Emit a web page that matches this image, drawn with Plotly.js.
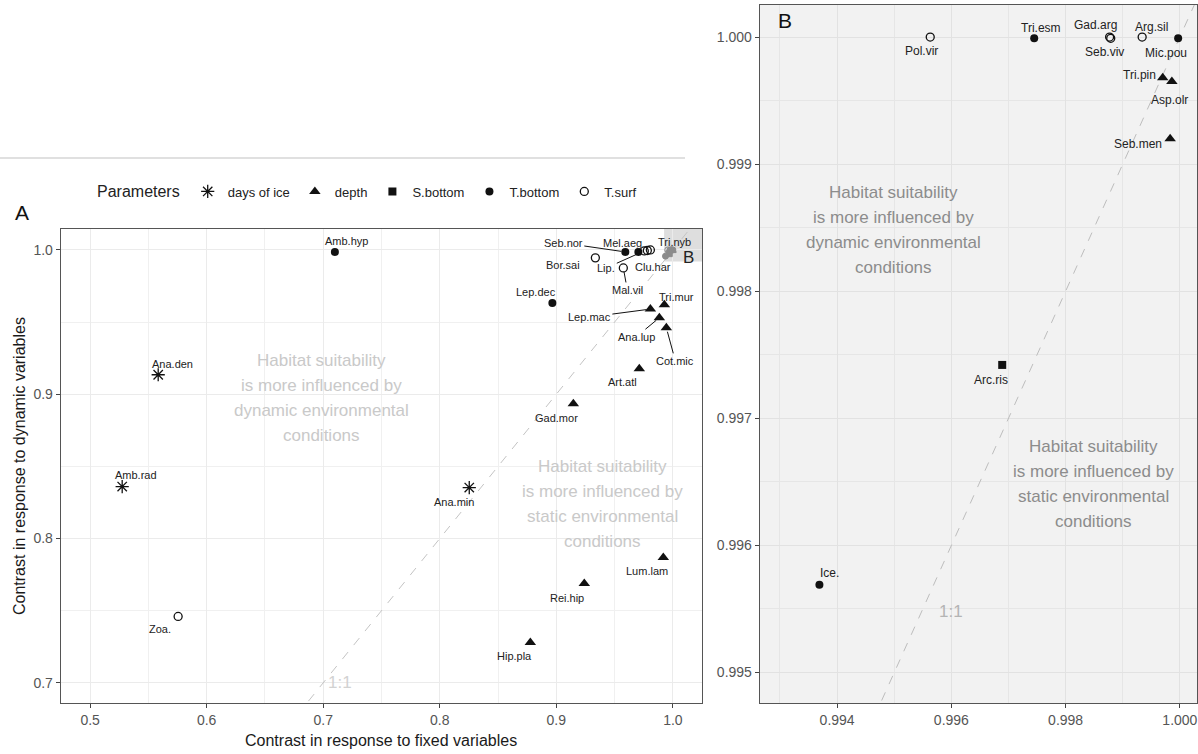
<!DOCTYPE html>
<html>
<head>
<meta charset="utf-8">
<script src="https://cdn.plot.ly/plotly-3.0.1.min.js"></script>
<style>html,body{margin:0;padding:0;background:#fff;}#chart{width:1198px;height:754px;}</style>
</head>
<body>
<div id="chart"></div>
<script>
// ---------------- DATA ----------------
// Panel A
const speciesA = ['Amb.hyp','Ana.den','Amb.rad','Zoa.','Ana.min','Gad.mor','Art.atl','Lum.lam','Rei.hip','Hip.pla','Cot.mic','Lep.dec','Tri.mur','Lep.mac','Ana.lup','Mal.vil','Bor.sai','Seb.nor','Mel.aeg','Lip.','Clu.har','Tri.nyb'];
const fixedA   = [0.710, 0.5584, 0.5275, 0.5755, 0.8253, 0.9146, 0.9712, 0.9918, 0.924, 0.8777, 0.9944, 0.8966, 0.9927, 0.9807, 0.9884, 0.9575, 0.9335, 0.9592, 0.9704, 0.9755, 0.9781, 0.9807];
const dynamicA = [0.9986, 0.9135, 0.836, 0.746, 0.8353, 0.8934, 0.9176, 0.7869, 0.7689, 0.728, 0.946, 0.9633, 0.962, 0.959, 0.953, 0.9875, 0.9945, 0.9986, 0.9986, 0.9993, 0.9996, 1.0];
const paramA   = ['T.bottom','days of ice','days of ice','T.surf','days of ice','depth','depth','depth','depth','depth','depth','T.bottom','depth','depth','depth','T.surf','T.surf','T.bottom','T.bottom','T.surf','T.surf','T.surf'];

// Panel B (zoom of the top-right corner)
const speciesB = ['Pol.vir','Tri.esm','Gad.arg','Seb.viv','Arg.sil','Mic.pou','Tri.pin','Asp.olr','Seb.men','Arc.ris','Ice.'];
const fixedB   = [0.99563, 0.99745, 0.99877, 0.99879, 0.99934, 0.99997, 0.99970, 0.99986, 0.99983, 0.99689, 0.99369];
const dynamicB = [1.0, 0.99999, 1.0, 0.99999, 1.0, 0.99999, 0.99968, 0.99965, 0.99920, 0.99742, 0.99569];
const paramB   = ['T.surf','T.bottom','T.surf','T.surf','T.surf','T.bottom','depth','depth','depth','S.bottom','T.bottom'];

const parameters = ['days of ice','depth','S.bottom','T.bottom','T.surf'];

const tickA_x = [0.5,0.6,0.7,0.8,0.9,1.0];
const tickA_y = [0.7,0.8,0.9,1.0];

// label placement (pixel offsets from each point, and whether a leader segment is drawn)
const labelOffA = [[12,-11],[14,-11],[14,-12],[-18,13],[-15,14],[-17,14],[-17,13],[-16,14],[-17,15],[-16,14],[9,33],[-16,-11],[12,-8],[-61,8],[-23,19],[4,22],[-32,7],[-62,-9],[-16,-9],[-38,17],[6,16],[24,-8]];
const leaderA   = [0,0,0,0,0,0,0,0,0,0,1,0,0,1,1,1,0,1,0,1,0,0];
const labelOffB = [[-9,14],[7,-10],[-14,-12],[-6,14],[9,-10],[-12,15],[-23,-3],[-2,18],[-32,5],[-11,15],[10,-12]];

// ---------------- STYLE ----------------
const FONT = 'Liberation Sans, Arial, sans-serif';
const symbolOf = {'days of ice':'asterisk-open','depth':'triangle-up','S.bottom':'square','T.bottom':'circle','T.surf':'circle-open'};
const sizeOf   = {'days of ice':11,'depth':10,'S.bottom':8,'T.bottom':8,'T.surf':8};

function pick(arr, idx){ return idx.map(i=>arr[i]); }

const traces = [];
// identity lines
traces.push({x:[0.6,1.05], y:[0.6,1.05], xaxis:'x', yaxis:'y', mode:'lines', line:{color:'#c4c4c4', width:1, dash:'dash'}, showlegend:false, hoverinfo:'skip'});
traces.push({x:[0.99,1.001], y:[0.99,1.001], xaxis:'x2', yaxis:'y2', mode:'lines', line:{color:'#bdbdbd', width:1, dash:'dash'}, showlegend:false, hoverinfo:'skip'});

// grey copies of panel B points inside panel A box
traces.push({x:fixedB, y:dynamicB, xaxis:'x', yaxis:'y', mode:'markers',
  marker:{symbol:paramB.map(p=>symbolOf[p]), size:6, color:'#8c8c8c', line:{color:'#8c8c8c', width:1}},
  showlegend:false, hoverinfo:'skip'});

parameters.forEach((p, k)=>{
  const ia = paramA.map((v,i)=>v===p?i:-1).filter(i=>i>=0);
  const ib = paramB.map((v,i)=>v===p?i:-1).filter(i=>i>=0);
  const mk = {symbol:symbolOf[p], size:sizeOf[p], color:'#111', line:{color:'#111', width:(p==='T.surf'||p==='days of ice')?1.3:0}};
  const legendFromA = ia.length>0;
  if (ia.length) traces.push({x:pick(fixedA,ia), y:pick(dynamicA,ia), xaxis:'x', yaxis:'y', mode:'markers', marker:mk, name:p, legendgroup:p, legendrank:k+1, showlegend:true});
  if (ib.length) traces.push({x:pick(fixedB,ib), y:pick(dynamicB,ib), xaxis:'x2', yaxis:'y2', mode:'markers', marker:mk, name:p, legendgroup:p, legendrank:k+1, showlegend:!legendFromA});
});

const annotations = [];
speciesA.forEach((s,i)=>{
  const a = {x:fixedA[i], y:dynamicA[i], xref:'x', yref:'y', text:s, font:{family:FONT, size:11, color:'#222'}};
  if (leaderA[i]) Object.assign(a, {showarrow:true, ax:labelOffA[i][0], ay:labelOffA[i][1], arrowhead:0, arrowwidth:1, arrowcolor:'#111', standoff:4});
  else Object.assign(a, {showarrow:false, xshift:labelOffA[i][0], yshift:-labelOffA[i][1], xanchor:'center', yanchor:'middle'});
  annotations.push(a);
});
speciesB.forEach((s,i)=>{
  annotations.push({x:fixedB[i], y:dynamicB[i], xref:'x2', yref:'y2', text:s, showarrow:false, xshift:labelOffB[i][0], yshift:-labelOffB[i][1],
    xanchor:'center', yanchor:'middle', font:{family:FONT, size:12, color:'#222'}});
});

function block(lines, x, y, xr, yr, color){
  lines.forEach((t,i)=>{
    annotations.push({x:x, y:y, xref:xr, yref:yr, text:t, showarrow:false, xanchor:'center', yanchor:'middle', yshift:((lines.length-1)/2 - i)*25,
      font:{family:FONT, size:17, color:color}});
  });
}
const dynText = ['Habitat suitability','is more influenced by','dynamic environmental','conditions'];
const statText = ['Habitat suitability','is more influenced by','static environmental','conditions'];
block(dynText, 0.6983, 0.8976, 'x', 'y', '#c9c9c9');
block(statText, 0.9395, 0.8239, 'x', 'y', '#c9c9c9');
block(dynText, 0.99498, 0.998484, 'x2', 'y2', '#8c8c8c');
block(statText, 0.998488, 0.99648, 'x2', 'y2', '#8c8c8c');

annotations.push({x:0.7146, y:0.700, xref:'x', yref:'y', text:'1:1', showarrow:false, font:{family:FONT, size:17, color:'#d2d2d2'}});
annotations.push({x:0.9960, y:0.99548, xref:'x2', yref:'y2', text:'1:1', showarrow:false, font:{family:FONT, size:17, color:'#b4b4b4'}});

function paperText(px, py, text, size, extra){
  annotations.push(Object.assign({x:px/1198, y:1-py/754, xref:'paper', yref:'paper', text:text, showarrow:false, xanchor:'center', yanchor:'middle',
    font:{family:FONT, size:size, color:'#111'}}, extra||{}));
}
// panel letters
paperText(22, 212, 'A', 21);
paperText(785, 20, 'B', 21);
annotations.push({x:1.0, y:0.9945, xref:'x', yref:'y', text:'B', showarrow:false, xshift:16, font:{family:FONT, size:17, color:'#222'}});

// axis titles
paperText(381, 740, 'Contrast in response to fixed variables', 16, {font:{family:FONT, size:16, color:'#1a1a1a'}});
paperText(19, 466, 'Contrast in response to dynamic variables', 16, {textangle:-90, font:{family:FONT, size:16, color:'#1a1a1a'}});

const shapes = [
  {type:'line', xref:'paper', yref:'paper', x0:0, x1:685/1198, y0:1-158/754, y1:1-158/754, line:{color:'#c2c2c2', width:1.2}},
  {type:'rect', xref:'x2 domain', yref:'y2 domain', x0:0, x1:1, y0:0, y1:1, fillcolor:'#f2f2f2', line:{width:0}, layer:'below'},
  {type:'rect', xref:'x', yref:'y', x0:0.9925, x1:1.03, y0:0.992, y1:1.03, fillcolor:'#dedede', line:{width:0}, layer:'below'}
];

const tickFont = {family:FONT, size:14, color:'#555'};
const axBase = {showline:true, mirror:true, linecolor:'#555', linewidth:1.3, ticks:'outside', ticklen:4, tickcolor:'#444', tickwidth:1,
  zeroline:false, showgrid:true, tickfont:tickFont, automargin:false, fixedrange:true};

const layout = {
  width:1198, height:754, margin:{l:0,r:0,t:0,b:0}, paper_bgcolor:'#fff', plot_bgcolor:'#fff',
  hovermode:false, font:{family:FONT},
  xaxis: Object.assign({}, axBase, {domain:[61/1198, 702/1198], range:[0.475,1.025], anchor:'y', tickvals:tickA_x, ticktext:tickA_x.map(v=>v.toFixed(1)), gridcolor:'#ebebeb', gridwidth:1,
     minor:{tickmode:'array', tickvals:[0.55,0.65,0.75,0.85,0.95], showgrid:true, gridcolor:'#f0f0f0', gridwidth:1, ticks:''}}),
  yaxis: Object.assign({}, axBase, {domain:[1-703/754, 1-229/754], range:[0.686,1.0145], anchor:'x', tickvals:tickA_y, ticktext:tickA_y.map(v=>v.toFixed(1)), gridcolor:'#ebebeb', gridwidth:1,
     minor:{tickmode:'array', tickvals:[0.75,0.85,0.95], showgrid:true, gridcolor:'#f0f0f0', gridwidth:1, ticks:''}}),
  xaxis2: Object.assign({}, axBase, {domain:[760/1198, 1197/1198], range:[0.99265,1.0003], anchor:'y2', tickvals:[0.994,0.996,0.998,1.0], ticktext:['0.994','0.996','0.998','1.000'], gridcolor:'#e2e2e2', gridwidth:1,
     minor:{tickmode:'array', tickvals:[0.993,0.995,0.997,0.999], showgrid:true, gridcolor:'#e6e6e6', gridwidth:1, ticks:''}}),
  yaxis2: Object.assign({}, axBase, {domain:[1-703/754, 1-5/754], range:[0.99476,1.000252], anchor:'x2', tickvals:[0.995,0.996,0.997,0.998,0.999,1.0], ticktext:['0.995','0.996','0.997','0.998','0.999','1.000'], gridcolor:'#e2e2e2', gridwidth:1,
     minor:{tickmode:'array', tickvals:[0.9955,0.9965,0.9975,0.9985,0.9995], showgrid:true, gridcolor:'#e6e6e6', gridwidth:1, ticks:''}}),
  showlegend:true,
  legend:{orientation:'h', x:95/1198, xanchor:'left', y:1-192/754, yanchor:'middle', bgcolor:'rgba(0,0,0,0)',
    title:{text:'Parameters', font:{family:FONT, size:16, color:'#222'}, side:'left'},
    font:{family:FONT, size:13, color:'#222'}, traceorder:'normal', itemclick:false, itemdoubleclick:false},
  annotations:annotations, shapes:shapes
};

Plotly.newPlot('chart', traces, layout, {staticPlot:true, displayModeBar:false});
</script>
</body>
</html>
